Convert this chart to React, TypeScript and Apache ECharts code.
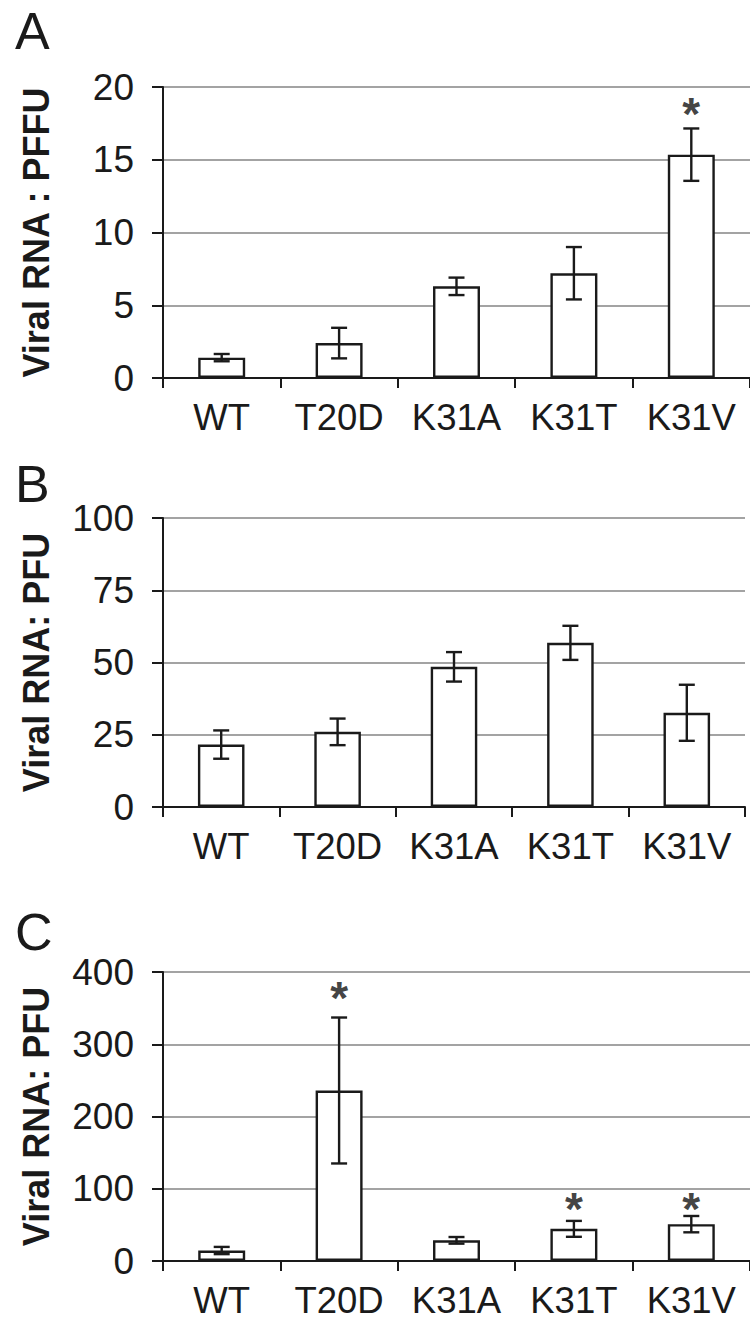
import React, { useEffect, useRef } from "react";
import * as echarts from "echarts";

const categories = ["WT", "T20D", "K31A", "K31T", "K31V"];

const meanA = [1.4, 2.4, 6.3, 7.2, 15.35];
const errA = [0.25, 1.05, 0.6, 1.8, 1.8];
const starA: (number | null)[] = [null, null, null, null, 18.8];

const meanB = [21.6, 26.0, 48.5, 56.8, 32.6];
const errB = [4.9, 4.6, 5.1, 5.9, 9.7];
const starB: (number | null)[] = [null, null, null, null, null];

const meanC = [14.5, 236, 28.6, 44.5, 51];
const errC = [5, 101, 4.6, 11, 11.3];
const starC: (number | null)[] = [null, 378, null, 86, 86];

const yMaxA = 20, yStepA = 5;
const yMaxB = 100, yStepB = 25;
const yMaxC = 400, yStepC = 100;

const titleA = "Viral RNA : PFFU";
const titleB = "Viral RNA: PFU";
const titleC = "Viral RNA: PFU";
const panelLetters = ["A", "B", "C"];

const FONT = "'Liberation Sans', Arial, Helvetica, sans-serif";
const INK = "#1a1a1a";
const GRIDC = "#a3a3a3";

export default function App() {
  const ref = useRef<HTMLDivElement>(null);
  useEffect(() => {
    if (!ref.current) return;
    const chart = echarts.init(ref.current, undefined, { renderer: "svg" });

    const grids = [
      { left: 163, top: 87, width: 599, height: 291 },
      { left: 163, top: 518, width: 582, height: 289 },
      { left: 163, top: 972, width: 593, height: 289 },
    ];
    const panels = [
      { mean: meanA, err: errA, star: starA, max: yMaxA, step: yStepA, title: titleA },
      { mean: meanB, err: errB, star: starB, max: yMaxB, step: yStepB, title: titleB },
      { mean: meanC, err: errC, star: starC, max: yMaxC, step: yStepC, title: titleC },
    ];

    const xAxis = panels.map((_, i) => ({
      type: "category",
      gridIndex: i,
      data: categories,
      boundaryGap: true,
      axisLine: { show: true, lineStyle: { color: INK, width: 2 } },
      axisTick: { show: true, length: 10, interval: 0, lineStyle: { color: INK, width: 2 } },
      axisLabel: {
        color: INK,
        fontSize: 36.5,
        fontFamily: FONT,
        margin: 21,
        interval: 0,
        hideOverlap: false,
      },
      splitLine: { show: false },
    }));

    const yAxis = panels.map((p, i) => ({
      type: "value",
      gridIndex: i,
      min: 0,
      max: p.max,
      interval: p.step,
      name: p.title,
      nameLocation: "middle",
      nameRotate: 90,
      nameGap: 109,
      nameTextStyle: { color: INK, fontSize: 36, fontWeight: "bold", fontFamily: FONT },
      axisLine: { show: true, lineStyle: { color: INK, width: 2 } },
      axisTick: { show: true, length: 11, lineStyle: { color: INK, width: 2 } },
      axisLabel: { color: INK, fontSize: 37, fontFamily: FONT, margin: 29 },
      splitLine: { show: true, lineStyle: { color: GRIDC, width: 2 } },
    }));

    const series: any[] = [];
    panels.forEach((p, i) => {
      series.push({
        type: "bar",
        xAxisIndex: i,
        yAxisIndex: i,
        data: p.mean,
        barWidth: "40%",
        itemStyle: { color: "#ffffff", borderColor: INK, borderWidth: 2.4 },
        silent: true,
      });
      series.push({
        type: "custom",
        xAxisIndex: i,
        yAxisIndex: i,
        data: p.mean.map((m, k) => [k, m - p.err[k], m + p.err[k]]),
        renderItem: (params: any, api: any) => {
          const lo = api.coord([api.value(0), api.value(1)]);
          const hi = api.coord([api.value(0), api.value(2)]);
          const half = 8;
          const st = { stroke: INK, lineWidth: 2.4 };
          return {
            type: "group",
            children: [
              { type: "line", shape: { x1: lo[0], y1: lo[1], x2: hi[0], y2: hi[1] }, style: st },
              { type: "line", shape: { x1: lo[0] - half, y1: lo[1], x2: lo[0] + half, y2: lo[1] }, style: st },
              { type: "line", shape: { x1: hi[0] - half, y1: hi[1], x2: hi[0] + half, y2: hi[1] }, style: st },
            ],
          };
        },
        z: 5,
        silent: true,
      });
      const stars = p.star
        .map((v, k) => (v == null ? null : [k, v]))
        .filter((d) => d !== null);
      if (stars.length) {
        series.push({
          type: "scatter",
          xAxisIndex: i,
          yAxisIndex: i,
          data: stars,
          symbolSize: 1,
          itemStyle: { color: "rgba(0,0,0,0)" },
          label: {
            show: true,
            formatter: "*",
            position: "inside",
            offset: [0, 10],
            color: "#111111",
            fontSize: 46,
            fontWeight: "bold",
            fontFamily: FONT,
          },
          silent: true,
        });
      }
    });

    const letterY = [31, 484, 932];
    const graphic = panelLetters.map((t, i) => ({
      type: "text",
      left: 15,
      top: letterY[i] - 26,
      style: { text: t, fontSize: 52, fontFamily: FONT, fill: INK },
    }));

    chart.setOption({
      animation: false,
      backgroundColor: "#ffffff",
      grid: grids,
      xAxis,
      yAxis,
      series,
      graphic,
    });
    return () => chart.dispose();
  }, []);
  return (
    <div
      ref={ref}
      style={{ position: "absolute", left: 0, top: 0, width: 750, height: 1321 }}
    />
  );
}
